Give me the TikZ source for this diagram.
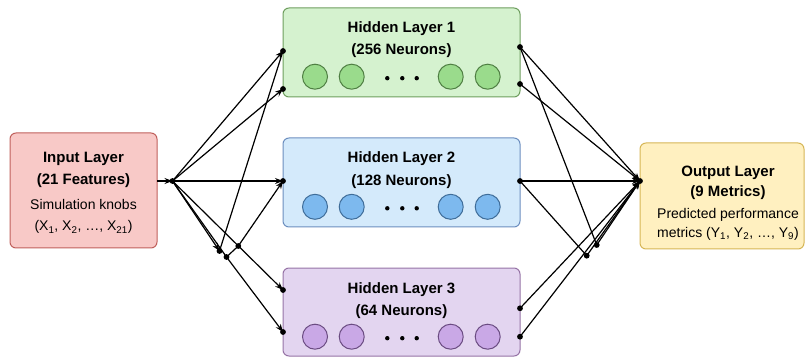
\documentclass[tikz,border=0pt]{standalone}
\usepackage{fontspec}
\setmainfont{Liberation Sans}
\usetikzlibrary{arrows.meta}
\definecolor{inFill}{HTML}{F8C9C7}
\definecolor{inLine}{HTML}{C0605C}
\definecolor{gFill}{HTML}{D5F2CF}
\definecolor{gLine}{HTML}{6E9E5E}
\definecolor{gCirc}{HTML}{9ADB8C}
\definecolor{gCircL}{HTML}{4F7F43}
\definecolor{bFill}{HTML}{D4EAFB}
\definecolor{bLine}{HTML}{6C8EBF}
\definecolor{bCirc}{HTML}{7DB9EE}
\definecolor{bCircL}{HTML}{3F6D99}
\definecolor{pFill}{HTML}{E3D5F0}
\definecolor{pLine}{HTML}{9673A6}
\definecolor{pCirc}{HTML}{C9A8E6}
\definecolor{pCircL}{HTML}{6B4C82}
\definecolor{oFill}{HTML}{FFF0C0}
\definecolor{oLine}{HTML}{D6B656}
\newcommand\sbs[1]{\textsubscript{#1}}
\tikzset{
  layerbox/.style={draw, rounded corners=6pt, line width=1pt, inner sep=0pt, outer sep=0pt},
  neuron/.style={circle, draw, line width=1pt, minimum size=25pt, inner sep=0pt},
  ttl/.style={font=\bfseries\fontsize{15}{18}\selectfont, anchor=base, inner sep=0pt},
  sub/.style={font=\fontsize{14}{17}\selectfont, anchor=base, inner sep=0pt},
  conn/.style={line width=1.2pt, -{Stealth[length=8pt,width=6pt]}},
  plainline/.style={line width=1.2pt},
  jdot/.style={fill=black},
  ell/.style={fill=black}
}
\begin{document}
\begin{tikzpicture}[x=1pt,y=-1pt]
\useasboundingbox (0,0) rectangle (806,358);
% boxes
\node[layerbox, fill=inFill, draw=inLine, minimum width=147pt, minimum height=115pt] (inp) at (83.5,190.5) {};
\node[layerbox, fill=gFill, draw=gLine, minimum width=237pt, minimum height=89pt] (h1) at (401.5,52.5) {};
\node[layerbox, fill=bFill, draw=bLine, minimum width=237pt, minimum height=89pt] (h2) at (401.5,182.5) {};
\node[layerbox, fill=pFill, draw=pLine, minimum width=237pt, minimum height=88pt] (h3) at (401.5,312) {};
\node[layerbox, fill=oFill, draw=oLine, minimum width=164pt, minimum height=106pt] (out) at (722,196) {};
% texts
\node[ttl] (t1) at (83.5,162.7) {Input Layer};
\node[ttl] (t2) at (83.5,185) {(21 Features)};
\node[sub] (t3) at (83.5,209.5) {Simulation knobs};
\node[sub] (t4) at (83.5,231) {(X\sbs{1}, X\sbs{2}, …, X\sbs{21})};
\node[ttl] (h1a) at (401.5,32.7) {Hidden Layer 1};
\node[ttl] (h1b) at (401.5,55) {(256 Neurons)};
\node[ttl] (h2a) at (401.5,163) {Hidden Layer 2};
\node[ttl] (h2b) at (401.5,185.5) {(128 Neurons)};
\node[ttl] (h3a) at (401.5,293) {Hidden Layer 3};
\node[ttl] (h3b) at (401.5,315.5) {(64 Neurons)};
\node[ttl] (o1) at (728,176.7) {Output Layer};
\node[ttl] (o2) at (728,196.5) {(9 Metrics)};
\node[sub] (o3) at (728,218.3) {Predicted performance};
\node[sub] (o4) at (728,237) {metrics (Y\sbs{1}, Y\sbs{2}, …, Y\sbs{9})};
% neurons
\foreach \y/\f/\l/\n in {76.7/gCirc/gCircL/a, 206.8/bCirc/bCircL/b, 336.7/pCirc/pCircL/c}{
  \node[neuron, fill=\f, draw=\l] (n\n1) at (315,\y) {};
  \node[neuron, fill=\f, draw=\l] (n\n2) at (351.7,\y) {};
  \node[neuron, fill=\f, draw=\l] (n\n3) at (450.7,\y) {};
  \node[neuron, fill=\f, draw=\l] (n\n4) at (487.7,\y) {};
  \fill[ell] (387.3,\y+1.5) circle (2.2pt);
  \fill[ell] (402.3,\y+1.5) circle (2.2pt);
  \fill[ell] (416.7,\y+1.5) circle (2.2pt);
}
% connection points
\coordinate (ir) at (157,181);
\coordinate (J) at (172.5,181);
\coordinate (l1a) at (283,51);
\coordinate (l1b) at (283,89);
\coordinate (l2) at (283,181);
\coordinate (l3a) at (283,290);
\coordinate (l3b) at (283,332);
\coordinate (A) at (219.5,251);
\coordinate (B) at (226.5,257);
\coordinate (C) at (238.3,246);
\coordinate (r1a) at (520,47);
\coordinate (r1b) at (520,84);
\coordinate (r2) at (520,181);
\coordinate (r3a) at (520,308.3);
\coordinate (r3b) at (520,336.7);
\coordinate (D) at (596.7,245);
\coordinate (E) at (586.7,255.7);
\coordinate (O) at (640,181);
% left connectors
\draw[conn] (ir) -- (J);
\draw[conn] (J) -- (l1a);
\draw[conn] (J) -- (l1b);
\draw[conn] (J) -- (l2);
\draw[conn] (J) -- (l3a);
\draw[conn] (J) -- (A);
\draw[plainline] (A) -- (l1a);
\draw[plainline] (J) -- (B);
\draw[conn] (B) -- (C) -- (l2);
\draw[conn] (B) -- (l3b);
% right connectors
\draw[conn] (r1a) -- (O);
\draw[conn] (r1b) -- (O);
\draw[conn] (r2) -- (O);
\draw[plainline] (r1a) -- (D);
\draw[plainline] (r2) -- (E);
\draw[conn] (D) -- (O);
\draw[conn] (E) -- (O);
\draw[conn] (r3a) -- (O);
\draw[conn] (r3b) -- (O);
% dots
\foreach \p in {J,l1a,l1b,l2,l3a,l3b,A,B,C,r1a,r1b,r2,r3a,r3b,D,E,O}{
  \fill[jdot] (\p) circle (2.9pt);
}
\end{tikzpicture}
\end{document}
